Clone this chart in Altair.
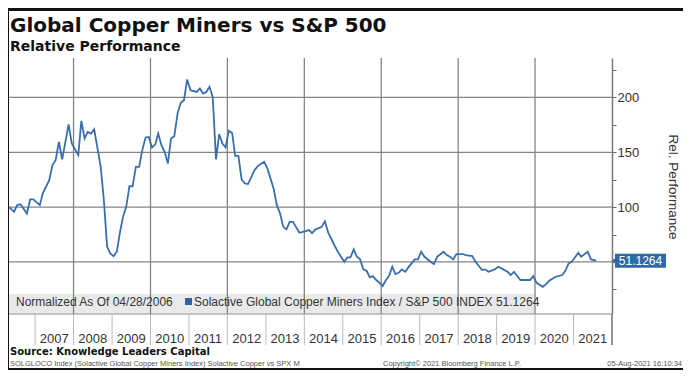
import altair as alt
import pandas as pd

# ---- data ----
dates = [
    "2006-04-28", "2006-06-15", "2006-07-15", "2006-08-15", "2006-10-15", "2006-11-15", "2006-12-15",
    "2007-02-15", "2007-03-15", "2007-05-15", "2007-06-15", "2007-07-15", "2007-08-15", "2007-09-15",
    "2007-11-15", "2007-12-15",
    "2008-02-15", "2008-03-15", "2008-04-15", "2008-05-15", "2008-06-15", "2008-07-15", "2008-09-15",
    "2008-10-15", "2008-11-15", "2008-12-15",
    "2009-01-15", "2009-02-15", "2009-03-15", "2009-04-15", "2009-05-15", "2009-06-15", "2009-07-15",
    "2009-08-15", "2009-09-15", "2009-10-15", "2009-11-15", "2009-12-15",
    "2010-01-15", "2010-02-15", "2010-03-15", "2010-04-15", "2010-05-15", "2010-06-15", "2010-07-15",
    "2010-08-15", "2010-09-15", "2010-10-15", "2010-11-15", "2010-12-15",
    "2011-01-15", "2011-03-15", "2011-04-15", "2011-05-15", "2011-06-15", "2011-07-15", "2011-08-15",
    "2011-09-15", "2011-10-15", "2011-11-15", "2011-12-15",
    "2012-01-15", "2012-02-15", "2012-03-15", "2012-04-15", "2012-05-15", "2012-06-15", "2012-07-15",
    "2012-09-15", "2012-10-15", "2012-12-15",
    "2013-01-15", "2013-03-15", "2013-04-15", "2013-05-15", "2013-06-15", "2013-07-15", "2013-08-15",
    "2013-09-15", "2013-11-15",
    "2014-01-15", "2014-02-15", "2014-03-15", "2014-04-15", "2014-06-15", "2014-07-15", "2014-08-15",
    "2014-10-15", "2014-11-15",
    "2015-01-15", "2015-02-15", "2015-03-15", "2015-04-15", "2015-05-15", "2015-06-15", "2015-07-15",
    "2015-08-15", "2015-09-15", "2015-10-15", "2015-11-15", "2015-12-15",
    "2016-01-15", "2016-02-15", "2016-03-15", "2016-04-15", "2016-05-15", "2016-06-15", "2016-07-15",
    "2016-08-15", "2016-09-15", "2016-11-15", "2016-12-15",
    "2017-01-15", "2017-02-15", "2017-04-15", "2017-05-15", "2017-06-15", "2017-08-15", "2017-09-15",
    "2017-10-15", "2017-11-15", "2017-12-15",
    "2018-02-15", "2018-03-15", "2018-05-15", "2018-06-15", "2018-08-15", "2018-09-15", "2018-10-15",
    "2018-12-15",
    "2019-01-15", "2019-02-15", "2019-04-15", "2019-05-15", "2019-06-15", "2019-08-15", "2019-09-15",
    "2019-11-15", "2019-12-15",
    "2020-01-15", "2020-03-15", "2020-04-15", "2020-05-15", "2020-07-15", "2020-09-15", "2020-10-15",
    "2020-11-15", "2020-12-15",
    "2021-02-15", "2021-03-15", "2021-05-15", "2021-06-15", "2021-08-05",
]
values = [
    100.0, 95.7, 101.8, 102.6, 94.2, 107.0, 107.0,
    101.8, 112.5, 124.6, 138.3, 142.8, 159.5, 143.5,
    175.4, 158.0,
    147.4, 178.7, 162.6, 168.6, 167.0, 171.0, 136.7,
    106.4, 63.8, 57.8,
    55.3, 59.3, 76.0, 91.2, 100.3, 119.1, 119.0,
    136.7, 136.7, 152.0, 163.5, 164.0,
    154.4, 157.0, 167.2, 156.5, 150.4, 139.8, 162.6,
    164.7, 185.4, 195.1, 197.5, 216.4,
    206.6, 205.1, 208.2, 203.6, 205.0, 209.7, 200.5,
    143.5, 166.5, 158.0, 154.4,
    169.6, 167.6, 146.8, 146.8, 125.2, 121.6, 121.0,
    133.7, 137.4, 141.3,
    135.3, 117.0, 101.8, 94.3, 82.0, 79.7, 86.6,
    86.6, 76.6,
    78.0, 79.0, 76.3, 79.5, 82.0, 87.0, 77.0,
    65.0, 59.3,
    50.1, 54.1, 54.1, 61.4, 54.7, 52.3, 43.2,
    41.9, 35.9, 37.1, 33.5, 31.0,
    28.0, 33.5, 37.1, 45.6, 38.9, 40.1, 43.2,
    41.0, 45.0, 52.3, 52.3,
    59.3, 54.7, 50.1, 48.0, 54.7, 59.3, 56.2,
    54.7, 52.3, 57.2,
    57.2, 56.2, 55.3, 50.1, 42.6, 43.2, 41.0,
    43.2,
    45.6, 44.1, 41.0, 38.0, 41.0, 33.5, 33.5,
    33.5, 37.1,
    31.0, 27.3, 29.8, 32.8, 36.5, 38.0, 41.9,
    48.7, 50.1,
    58.3, 54.7, 59.3, 52.3, 51.1264,
]
years = list(range(2007, 2022))
grid_years = [2008, 2010, 2012, 2014, 2016, 2018, 2020]
grid_values = [50, 100, 150, 200]
axis_ticks = [25, 50, 75, 100, 125, 150, 175, 200, 225]

BLUE = "#3a6fad"
BOX = "#2f69a6"
GRID = "#858585"
W, H = 603, 256

df = pd.DataFrame({"date": dates, "value": values})
last = pd.DataFrame({"date": [dates[-1]], "value": [values[-1]]})
sep_df = pd.DataFrame({"date": [f"{y}-01-01" for y in years] + ["2022-01-01"]})
lab_df = pd.DataFrame({"date": [f"{y}-07-02" for y in years], "label": [str(y) for y in years]})
vgrid_df = pd.DataFrame({"date": [f"{y}-01-01" for y in grid_years]})
hgrid_df = pd.DataFrame({"value": grid_values})
one = pd.DataFrame({"k": [0]})

xscale = alt.Scale(type="utc", domain=[alt.DateTime(year=2006, month=4, date=28, utc=True),
                                       alt.DateTime(year=2022, month=1, date=1, utc=True)])
yscale = alt.Scale(domain=[2.5, 236], nice=False, zero=False)
y_axis = alt.Axis(orient="right", values=axis_ticks,
                  labelExpr="(datum.value==100||datum.value==150||datum.value==200) ? datum.label : ''",
                  grid=False, tickSize=4, tickColor="#666666", domainColor="#7a7a7a", domainWidth=1.5,
                  labelFont="Liberation Sans", labelFontSize=13, labelColor="#333333", labelPadding=1,
                  title=None, zindex=1)
X = lambda: alt.X("date:T", scale=xscale, axis=None)
Y = lambda f="value": alt.Y(f"{f}:Q", scale=yscale, axis=y_axis)


def txt(s, x, y, size, font="Liberation Sans", weight="normal", color="#333333",
        align="left", baseline="alphabetic", angle=0):
    return alt.Chart(one).mark_text(text=s, font=font, fontSize=size, fontWeight=weight, color=color,
                                    align=align, baseline=baseline, angle=angle).encode(
        x=alt.value(x), y=alt.value(y))


panel = alt.Chart(one).mark_rect(color="white").encode(
    x=alt.value(0), x2=alt.value(674), y=alt.value(-47), y2=alt.value(310))
band = alt.Chart(one).mark_rect(color="#e9e9e9").encode(
    x=alt.value(0), x2=alt.value(526), y=alt.value(236), y2=alt.value(255))
vgrid = alt.Chart(vgrid_df).mark_rule(color=GRID, strokeWidth=1.3).encode(
    x=X(), y=alt.value(0), y2=alt.value(H))
hgrid = alt.Chart(hgrid_df).mark_rule(color=GRID, strokeWidth=1.3).encode(
    y=Y(), x=alt.value(0), x2=alt.value(W))
line = alt.Chart(df).mark_line(color=BLUE, strokeWidth=1.8).encode(x=X(), y=Y())
bottom = alt.Chart(one).mark_rule(color="#8a8a8a", strokeWidth=1.2).encode(
    y=alt.value(H), x=alt.value(0), x2=alt.value(W))
seps = alt.Chart(sep_df).mark_rule(color="#bbbbbb", strokeWidth=1).encode(
    x=X(), y=alt.value(H), y2=alt.value(H + 31))
year_labels = alt.Chart(lab_df).mark_text(font="Liberation Sans", fontSize=13, color="#333333",
                                          align="center", baseline="alphabetic").encode(
    x=X(), y=alt.value(285), text="label:N")
right_ext = alt.Chart(one).mark_rule(color="#7a7a7a", strokeWidth=1.5).encode(
    x=alt.value(W), y=alt.value(H), y2=alt.value(H + 31))
box = alt.Chart(last).mark_rect(color=BOX, yOffset=-7, y2Offset=7).encode(
    x=alt.value(606), x2=alt.value(657), y=Y(), y2=alt.Y2("value"))
tri = alt.Chart(last).mark_point(shape="triangle-left", filled=True, size=45, color=BOX, opacity=1).encode(
    x=alt.value(605), y=Y())
box_text = alt.Chart(last).mark_text(font="Liberation Sans", fontSize=12, color="white",
                                     align="center", baseline="middle").encode(
    x=alt.value(631.5), y=Y(), text=alt.Text("value:Q", format=".4f"))
square = alt.Chart(one).mark_rect(color="#2e62a3").encode(
    x=alt.value(176), x2=alt.value(183), y=alt.value(240), y2=alt.value(247))

texts = [
    txt("Global Copper Miners vs S&P 500", 1, -26, 20, font="DejaVu Sans", weight="bold", color="#111111"),
    txt("Relative Performance", 1, -7, 14, font="DejaVu Sans", weight="bold", color="#111111"),
    txt("Normalized As Of 04/28/2006", 7, 248, 12),
    txt(f"Solactive Global Copper Miners Index / S&P 500 INDEX {values[-1]:.4f}", 185, 248, 12),
    txt("Rel. Performance", 664, 129, 13.5, align="center", baseline="middle", angle=90),
    txt("Source: Knowledge Leaders Capital", 1, 297, 10, font="DejaVu Sans", weight="bold", color="#111111"),
    txt("SOLGLOCO Index (Solactive Global Copper Miners Index) Solactive Copper vs SPX  M", 1, 308, 7.5,
        color="#555555"),
    txt("Copyright\u00a9 2021 Bloomberg Finance L.P.", 374, 308, 7.5, color="#555555"),
    txt("05-Aug-2021 16:10:34", 673, 308, 7.5, color="#555555", align="right"),
]

chart = alt.layer(
    panel, band, vgrid, hgrid, line, bottom, seps, year_labels, right_ext,
    box, tri, box_text, square, *texts
).properties(
    width=W, height=H,
    padding={"left": 1, "top": 50, "right": 71, "bottom": 56},
    autosize=alt.AutoSizeParams(type="none"),
    background="#111111",
).configure_view(stroke=None)

chart.save("out.html", embed_options={"renderer": "svg", "actions": False})
